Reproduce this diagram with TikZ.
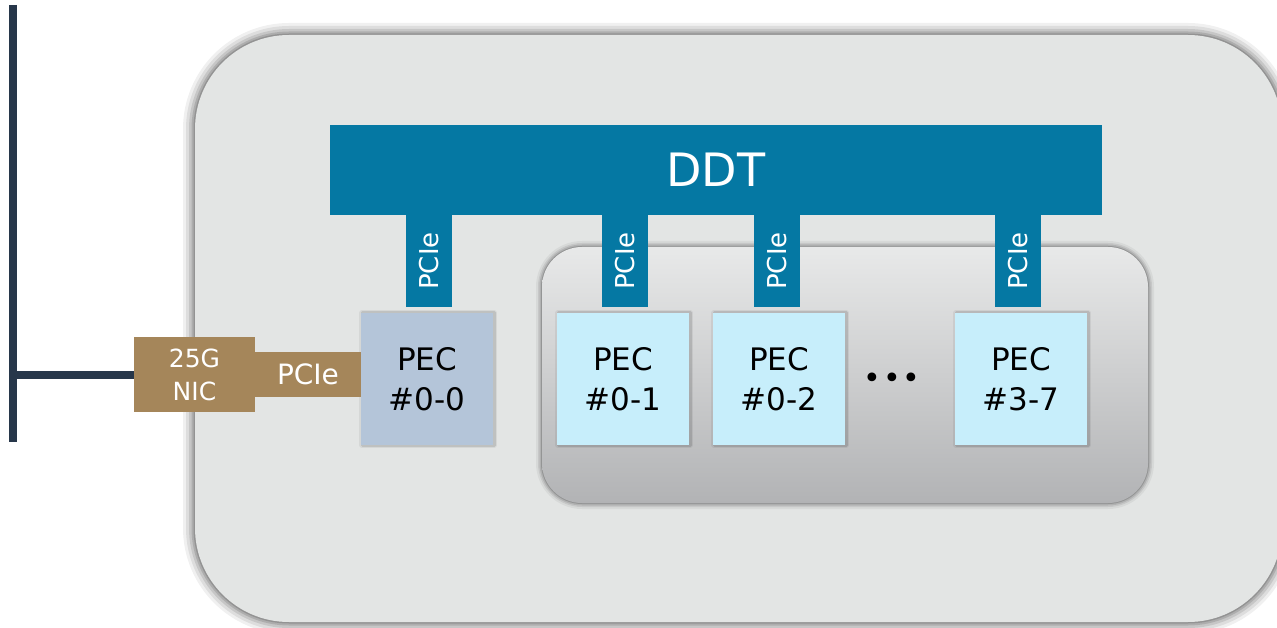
\documentclass[tikz,border=0pt]{standalone}
\usepackage{fontspec}
\setmainfont{DejaVu Sans}
\usetikzlibrary{positioning}
\definecolor{ddtblue}{HTML}{0578A3}
\definecolor{nicbrown}{HTML}{A5865A}
\definecolor{pecgray}{HTML}{B4C5D9}
\definecolor{peccyan}{HTML}{C7EEFB}
\definecolor{outerfill}{HTML}{E3E5E4}
\definecolor{busnavy}{HTML}{27374A}
\definecolor{innertop}{HTML}{E8E9E9}
\definecolor{innerbot}{HTML}{B2B3B5}
\tikzset{
  pecbox/.style={rectangle, draw=none, minimum width=132pt, minimum height=132pt, inner sep=0pt,
     align=center, font=\fontsize{31}{40}\selectfont, text=black},
  busbar/.style={rectangle, fill=ddtblue, draw=none, inner sep=0pt, text=white,
     font=\fontsize{26}{26}\selectfont},
  nicbar/.style={rectangle, fill=nicbrown, draw=none, inner sep=0pt, text=white},
  glow/.style={draw=black, line join=round},
}
\begin{document}
\begin{tikzpicture}[x=1pt,y=-1pt]
\useasboundingbox (0,0) rectangle (1277,628);
\fill[white] (0,0) rectangle (1277,628);
% outer box glow
\foreach \w/\o in {24/0.06,18/0.08,12/0.10,7/0.12,3/0.15} {
  \draw[glow, line width=\w pt, draw opacity=\o, rounded corners=94pt] (195,35) rectangle (1282,622);
}
\fill[outerfill, rounded corners=94pt] (195,35) rectangle (1282,622);
% inner group box
\foreach \w/\o in {12/0.05,8/0.08,5/0.10,2/0.16} {
  \draw[glow, line width=\w pt, draw opacity=\o, rounded corners=40pt] (542,247) rectangle (1148,503);
}
\shade[top color=innertop, bottom color=innerbot, rounded corners=40pt] (542,247) rectangle (1148,503);
% DDT
\node[busbar, minimum width=772pt, minimum height=90pt, font=\fontsize{46}{46}\selectfont] (ddt) at (716,170) {DDT};
% vertical PCIe bars
\node[busbar, rotate=90, minimum width=92pt, minimum height=46pt] (p0) at (429,261) {PCIe};
\node[busbar, rotate=90, minimum width=92pt, minimum height=46pt] (p1) at (625,261) {PCIe};
\node[busbar, rotate=90, minimum width=92pt, minimum height=46pt] (p2) at (777,261) {PCIe};
\node[busbar, rotate=90, minimum width=92pt, minimum height=46pt] (p3) at (1018,261) {PCIe};
% PEC boxes with soft shadows
\foreach \cx in {427,623,779,1021} {
  \foreach \w/\o in {6/0.06,3/0.10} {
    \draw[glow, line width=\w pt, draw opacity=\o] (\cx-66+1,311+2) rectangle (\cx+66+1,443+2);
  }
}
\node[pecbox, fill=pecgray] (pec00) at (427,379) {PEC\\\#0-0};
\node[pecbox, fill=peccyan] (pec01) at (623,379) {PEC\\\#0-1};
\node[pecbox, fill=peccyan] (pec02) at (779,379) {PEC\\\#0-2};
\node[pecbox, fill=peccyan] (pec37) at (1021,379) {PEC\\\#3-7};
\node[font=\fontsize{30}{30}\selectfont, inner sep=0pt] (dots) at (892,381) {\textbullet\kern1.5pt\textbullet\kern1.5pt\textbullet};
% NIC
\node[nicbar, minimum width=106pt, minimum height=45pt, font=\fontsize{28}{28}\selectfont] (nicpcie) at (308,374.5) {PCIe};
\node[nicbar, minimum width=121pt, minimum height=75pt, align=center, font=\fontsize{25}{33}\selectfont] (nic) at (194.5,374.5) {25G\\NIC};
% network bus
\coordinate (bustop) at (13,5);
\coordinate (busbot) at (13,442);
\coordinate (busjoin) at (13,374.5);
\draw[busnavy, line width=8pt] (bustop) -- (busbot);
\draw[busnavy, line width=8pt] (busjoin) -- (nic.west);
\end{tikzpicture}
\end{document}
